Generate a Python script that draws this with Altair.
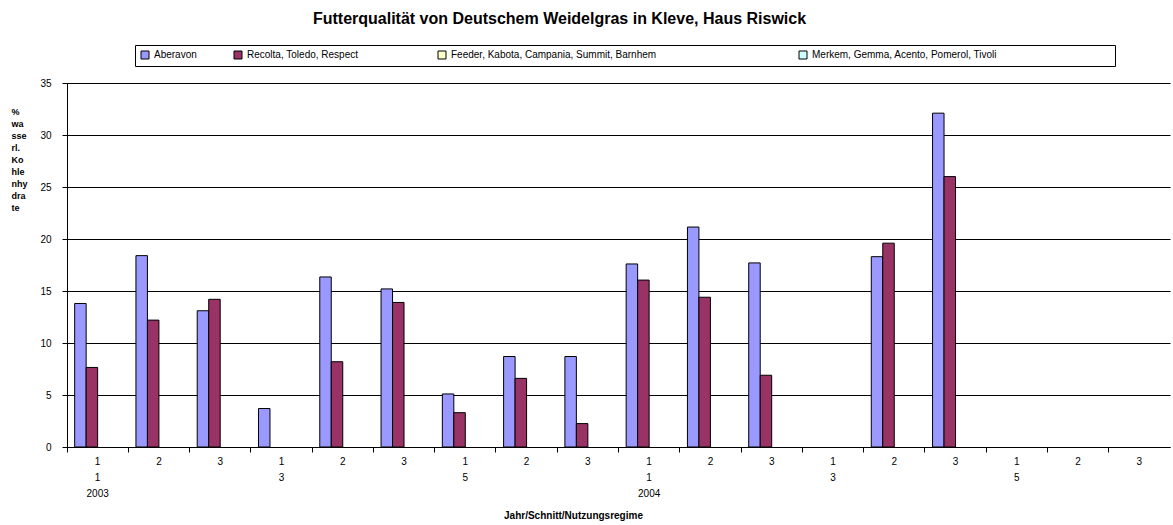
import altair as alt
import pandas as pd

# Categories: year / regime / cut
years = ["2003", "2004"]
regimes = ["1", "3", "5"]
cuts = ["1", "2", "3"]

series = [
    "Aberavon",
    "Recolta, Toledo, Respect",
    "Feeder, Kabota, Campania, Summit, Barnhem",
    "Merkem, Gemma, Acento, Pomerol, Tivoli",
]
colors = ["#9999FF", "#993366", "#FFFFCC", "#CCFFFF"]

# % water-soluble carbohydrates, one value per year/regime/cut (None = no sample)
aberavon = [13.8, 18.4, 13.1, 3.7, 16.35, 15.2, 5.1, 8.7, 8.7,
            17.6, 21.15, 17.7, None, 18.3, 32.1, None, None, None]
recolta = [7.65, 12.2, 14.2, None, 8.2, 13.9, 3.3, 6.6, 2.25,
           16.05, 14.4, 6.9, None, 19.6, 26.0, None, None, None]

keys = [f"{y}-{r}-{c}" for y in years for r in regimes for c in cuts]

rows = []
for name, vals in [(series[0], aberavon), (series[1], recolta)]:
    for k, v in zip(keys, vals):
        if v is not None:
            rows.append({"key": k, "sorte": name, "wert": v})
df = pd.DataFrame(rows)

FONT = "Liberation Sans, Arial, sans-serif"
BLANK = "\u2800"  # blank glyph used to widen legend entries

y_title = ["%", "wa", "sse", "rl.", "Ko", "hle", "nhy", "dra", "te"]

# three label rows under the x axis: cut, regime (first cut only), year (first group only)
label_expr = (
    "split(datum.value,'-')[2] == '1' ? "
    "(split(datum.value,'-')[1] == '1' ? "
    "[split(datum.value,'-')[2], split(datum.value,'-')[1], split(datum.value,'-')[0]] : "
    "[split(datum.value,'-')[2], split(datum.value,'-')[1]]) : "
    "split(datum.value,'-')[2]"
)

legend_expr = (
    f"datum.label == 'Aberavon' ? pad(datum.label, 13, '{BLANK}') : "
    f"datum.label == 'Recolta, Toledo, Respect' ? pad(datum.label, 35, '{BLANK}') : "
    f"datum.label == 'Feeder, Kabota, Campania, Summit, Barnhem' ? pad(datum.label, 61, '{BLANK}') : "
    f"pad(datum.label, 54, '{BLANK}')"
)

chart = (
    alt.Chart(df)
    .mark_bar(stroke="black", strokeWidth=1)
    .encode(
        x=alt.X(
            "key:N",
            scale=alt.Scale(domain=keys, paddingInner=0, paddingOuter=0),
            axis=alt.Axis(
                title="Jahr/Schnitt/Nutzungsregime",
                titleFont=FONT,
                titleFontSize=10,
                titleFontWeight="bold",
                titleX=506,
                titleY=68,
                titleAlign="center",
                titleBaseline="middle",
                labelExpr=label_expr,
                labelAngle=0,
                labelFont=FONT,
                labelFontSize=10,
                labelColor="black",
                labelBaseline="top",
                labelLineHeight=16,
                labelPadding=4,
                tickSize=5,
                tickColor="black",
                bandPosition=0,
                domainColor="black",
                grid=False,
            ),
        ),
        xOffset=alt.XOffset(
            "sorte:N",
            scale=alt.Scale(domain=series, paddingInner=0, paddingOuter=0.667),
        ),
        y=alt.Y(
            "wert:Q",
            scale=alt.Scale(domain=[0, 35], nice=False),
            axis=alt.Axis(
                values=[0, 5, 10, 15, 20, 25, 30, 35],
                title=y_title,
                titleFont=FONT,
                titleFontSize=9,
                titleFontWeight="bold",
                titleAngle=0,
                titleAlign="left",
                titleBaseline="top",
                titleLineHeight=12,
                titleX=-56,
                titleY=24,
                labelFont=FONT,
                labelFontSize=10,
                labelColor="black",
                labelPadding=11,
                tickSize=5,
                tickColor="black",
                domainColor="black",
                gridColor="black",
                gridWidth=1,
            ),
        ),
        color=alt.Color(
            "sorte:N",
            scale=alt.Scale(domain=series, range=colors),
            legend=alt.Legend(
                title=None,
                orient="none",
                legendX=68,
                legendY=-38,
                direction="horizontal",
                columns=4,
                columnPadding=0,
                padding=5,
                strokeColor="black",
                symbolType="square",
                symbolSize=64,
                symbolStrokeColor="black",
                symbolStrokeWidth=1,
                symbolOpacity=1,
                labelFont=FONT,
                labelFontSize=10,
                labelColor="black",
                labelOffset=4,
                labelLimit=600,
                labelExpr=legend_expr,
            ),
        ),
    )
    .properties(
        width=1103,
        height=364,
        title=alt.TitleParams(
            "Futterqualität von Deutschem Weidelgras in Kleve, Haus Riswick",
            font=FONT,
            fontSize=16,
            fontWeight="bold",
            color="black",
            anchor="middle",
            dx=-59,
            offset=18,
        ),
        autosize=alt.AutoSizeParams(type="none"),
        padding={"left": 67, "top": 83, "right": 3, "bottom": 78},
        background="white",
    )
    .configure_view(stroke="transparent")
)

chart.save("out.html", embed_options={"renderer": "svg", "actions": False})
